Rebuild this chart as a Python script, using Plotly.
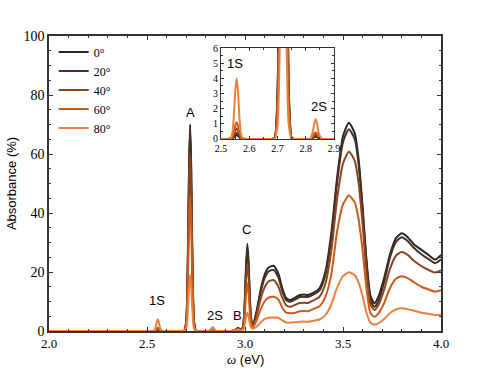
import plotly.graph_objects as go

# photon energy grid (eV)
energy = [2.00, 2.45, 2.52, 2.535, 2.54, 2.545, 2.55, 2.555, 2.56, 2.565, 2.57, 2.575, 2.59,
          2.68, 2.69, 2.70, 2.705, 2.71, 2.715, 2.72, 2.725, 2.73, 2.735, 2.74, 2.75, 2.76,
          2.80, 2.815, 2.825, 2.83, 2.835, 2.84, 2.845, 2.855, 2.87,
          2.93, 2.95, 2.965, 2.98, 2.99, 2.995, 3.0, 3.005, 3.012, 3.018, 3.024, 3.03, 3.036, 3.042,
          3.06, 3.08, 3.10, 3.12, 3.145, 3.17, 3.19, 3.21, 3.23, 3.26, 3.28, 3.30, 3.32, 3.35, 3.38,
          3.41, 3.44, 3.47, 3.50, 3.53, 3.56, 3.58, 3.60, 3.62, 3.64, 3.66, 3.68, 3.71, 3.74, 3.77,
          3.80, 3.83, 3.86, 3.90, 3.94, 3.97, 4.00]

abs_0 = [0, 0, 0, 0.01, 0.025, 0.09, 0.19, 0.25, 0.19, 0.09, 0.025, 0.01, 0,
         0, 0.07, 3.1, 12.0, 32.1, 57.6, 70, 57.6, 32.1, 12.0, 3.1, 0.07, 0,
         0, 0, 0.05, 0.12, 0.15, 0.12, 0.05, 0, 0,
         0, 0.35, 1.0, 0.4, 1.55, 4.95, 12.2, 21.9, 29.6, 24.0, 12.9, 5.2, 2.5, 2.4,
         7, 14, 19, 21.5, 22.1, 19.5, 14.5, 11.2, 10.5, 11.5, 12.2, 12.4, 12.2, 13, 14.5,
         20, 33, 52, 66, 70.6, 67, 58, 42, 24, 12, 9.4, 11.5, 18, 26, 31.5,
         33.1, 31.8, 29.5, 27.5, 25.6, 24.2, 25.8]

abs_20 = [0, 0, 0, 0.01, 0.04, 0.14, 0.31, 0.4, 0.31, 0.14, 0.04, 0.01, 0,
          0, 0.07, 3.0, 11.7, 31.1, 56.0, 68, 56.0, 31.1, 11.7, 3.0, 0.07, 0,
          0, 0, 0.07, 0.155, 0.2, 0.155, 0.07, 0, 0,
          0, 0.3, 0.9, 0.35, 1.45, 4.6, 11.4, 20.4, 27.6, 22.3, 12.0, 4.8, 2.3, 2.2,
          6.6, 13.2, 17.9, 20.2, 20.7, 18.3, 13.6, 10.5, 9.9, 10.8, 11.5, 11.6, 11.5, 12.4, 13.8,
          19, 31.4, 50.4, 64, 68.4, 65, 56.2, 40.7, 22.8, 10.5, 8.2, 10, 16.6, 25, 30.2,
          31.8, 30.5, 28.3, 26.0, 24.2, 23.0, 24.2]

abs_40 = [0, 0, 0, 0.02, 0.07, 0.25, 0.54, 0.7, 0.54, 0.25, 0.07, 0.02, 0,
          0, 0.06, 2.6, 10.3, 27.5, 49.4, 60, 49.4, 27.5, 10.3, 2.6, 0.06, 0,
          0, 0.005, 0.11, 0.23, 0.3, 0.23, 0.11, 0.005, 0,
          0, 0.28, 0.8, 0.3, 1.2, 3.85, 9.5, 17.0, 23.0, 18.6, 10.0, 4.1, 2.0, 1.9,
          5.5, 10.9, 14.8, 16.8, 17.3, 15.2, 11.3, 8.7, 8.2, 9.0, 9.5, 9.6, 9.5, 10.4, 11.6,
          16, 27, 44.8, 56.8, 60.8, 57.7, 50, 36.2, 19.7, 9.1, 7.1, 8.7, 14, 21.1, 25.5,
          26.8, 25.8, 23.9, 22.0, 20.6, 19.8, 20.5]

abs_60 = [0, 0, 0, 0.03, 0.11, 0.4, 0.85, 1.1, 0.85, 0.4, 0.11, 0.03, 0,
          0, 0.05, 2.0, 7.8, 20.8, 37.4, 45.5, 37.4, 20.8, 7.8, 2.0, 0.05, 0,
          0, 0.01, 0.16, 0.35, 0.45, 0.35, 0.16, 0.01, 0,
          0, 0.23, 0.65, 0.25, 0.85, 2.7, 6.7, 12.0, 16.2, 13.1, 7.1, 2.9, 1.5, 1.4,
          3.7, 7.4, 10, 11.3, 11.6, 10.7, 8, 6.2, 6.0, 6.3, 6.7, 6.8, 6.7, 7.5, 8.4,
          11.6, 19.1, 33.8, 42.9, 45.9, 43.6, 37.7, 27.3, 14.4, 6.1, 4.8, 5.9, 9.5, 14.6, 17.7,
          18.6, 17.9, 16.6, 15.0, 14.0, 13.3, 13.8]

abs_80 = [0, 0, 0, 0.08, 0.4, 1.44, 3.1, 4.0, 3.1, 1.44, 0.4, 0.08, 0,
          0, 0.02, 0.84, 3.3, 8.7, 15.6, 19, 15.6, 8.7, 3.3, 0.84, 0.02, 0,
          0, 0.02, 0.47, 1.0, 1.3, 1.0, 0.47, 0.02, 0,
          0, 0.14, 0.4, 0.15, 0.35, 1.05, 2.6, 4.6, 6.2, 5.1, 2.8, 1.3, 0.8, 0.8,
          1.5, 2.9, 4.0, 4.5, 4.6, 4.5, 3.6, 2.9, 2.8, 3.0, 3.1, 3.2, 3.1, 3.5, 3.9,
          5.4, 8.9, 14.7, 18.6, 19.9, 18.9, 16.4, 11.8, 6.2, 2.8, 2.2, 2.6, 4.1, 6.1, 7.3,
          7.7, 7.4, 6.9, 6.2, 5.8, 5.4, 5.5]

angles = ["0°", "20°", "40°", "60°", "80°"]
series = [abs_0, abs_20, abs_40, abs_60, abs_80]
colors = ["#262626", "#4a3022", "#8a4622", "#cc5a1a", "#e8803e"]

x_ticks_main = [2.0, 2.5, 3.0, 3.5, 4.0]
y_ticks_main = [0, 20, 40, 60, 80, 100]
x_ticks_inset = [2.5, 2.6, 2.7, 2.8, 2.9]
y_ticks_inset = [0, 1, 2, 3, 4, 5, 6]

for s in series:
    assert len(s) == len(energy), len(s)

fig = go.Figure()
for name, ys, c in zip(angles, series, colors):
    fig.add_trace(go.Scatter(x=energy, y=ys, mode="lines", name=name,
                             line=dict(color=c, width=2, shape="spline", smoothing=0.6),
                             xaxis="x", yaxis="y", hoverinfo="skip"))
for name, ys, c in zip(angles, series, colors):
    fig.add_trace(go.Scatter(x=energy, y=ys, mode="lines", name=name, showlegend=False,
                             line=dict(color=c, width=2, shape="spline", smoothing=0.6),
                             xaxis="x2", yaxis="y2", hoverinfo="skip"))

serif = "'Liberation Serif', 'DejaVu Serif', serif"
sans = "'Liberation Sans', Arial, sans-serif"
axcol = "#333333"

fig.update_layout(
    width=491, height=368,
    margin=dict(l=49, r=50, t=36, b=37, autoexpand=False),
    paper_bgcolor="white", plot_bgcolor="white",
    font=dict(family=sans, size=13, color="black"),
    showlegend=True,
    legend=dict(x=0.012, y=0.995, xanchor="left", yanchor="top",
                bgcolor="rgba(0,0,0,0)", font=dict(family=serif, size=12),
                itemwidth=30, tracegroupgap=0),
    xaxis=dict(range=[2.0, 4.0], domain=[0, 1], tickvals=x_ticks_main, tickformat=".1f",
               automargin=False,
               ticks="inside", ticklen=4, tickcolor=axcol, showline=True, linecolor=axcol,
               linewidth=1.5, mirror="allticks", showgrid=False, zeroline=False,
               tickfont=dict(family=serif, size=13),
               minor=dict(dtick=0.1, tick0=2.0, ticks="inside", ticklen=2, tickcolor=axcol)),
    yaxis=dict(range=[0, 100], domain=[0, 1], tickvals=y_ticks_main, automargin=False,
               ticks="inside", ticklen=4, tickcolor=axcol, showline=True, linecolor=axcol,
               linewidth=1.5, mirror="allticks", showgrid=False, zeroline=False,
               tickfont=dict(family=serif, size=14),
               minor=dict(dtick=5, tick0=0, ticks="inside", ticklen=2, tickcolor=axcol),
               title=dict(text="Absorbance (%)", standoff=4, font=dict(family=sans, size=13))),
    xaxis2=dict(range=[2.5, 2.9], domain=[0.439, 0.727], anchor="y2", tickvals=x_ticks_inset,
                automargin=False,
                tickformat=".1f", ticks="inside", ticklen=3, tickcolor=axcol, showline=True,
                linecolor=axcol, linewidth=1.2, mirror="allticks", showgrid=False, zeroline=False,
                tickfont=dict(family=serif, size=10),
                minor=dict(dtick=0.05, tick0=2.5, ticks="inside", ticklen=2, tickcolor=axcol)),
    yaxis2=dict(range=[0, 6], domain=[0.651, 0.959], anchor="x2", tickvals=y_ticks_inset,
                automargin=False,
                ticks="inside", ticklen=3, tickcolor=axcol, showline=True, linecolor=axcol,
                linewidth=1.2, mirror="allticks", showgrid=False, zeroline=False,
                tickfont=dict(family=serif, size=10),
                minor=dict(dtick=0.5, tick0=0, ticks="inside", ticklen=2, tickcolor=axcol)),
)

# x-axis title placed precisely
fig.add_annotation(x=0.5, y=-0.097, xref="paper", yref="paper", showarrow=False,
                   xanchor="center", yanchor="middle",
                   text="<i><span style='font-family:Liberation Serif'>ω</span></i> (eV)",
                   font=dict(family=sans, size=13, color="black"))

labels_main = [("A", 2.72, 74), ("C", 3.01, 34.5), ("1S", 2.55, 10.5), ("2S", 2.848, 5.4),
               ("B", 2.961, 5.4)]
for t, xx, yy in labels_main:
    fig.add_annotation(x=xx, y=yy, xref="x", yref="y", text=t, showarrow=False,
                       font=dict(family=sans, size=13, color="black"))
labels_inset = [("1S", 2.55, 5.0), ("2S", 2.847, 2.15)]
for t, xx, yy in labels_inset:
    fig.add_annotation(x=xx, y=yy, xref="x2", yref="y2", text=t, showarrow=False,
                       font=dict(family=sans, size=13, color="black"))

fig.write_html("out.html", config={"displayModeBar": False},
               post_script="document.body.style.margin='0px';document.body.style.padding='0px';")
